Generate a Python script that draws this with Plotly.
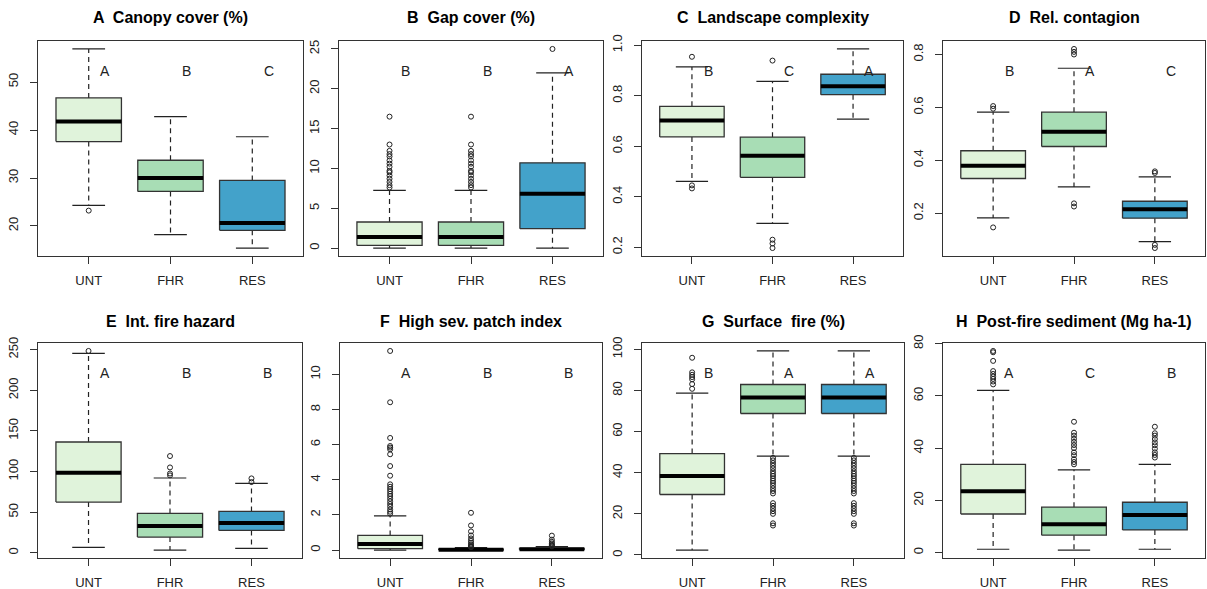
import plotly.graph_objects as go

groups = ["UNT", "FHR", "RES"]
fills = ["#E0F3DB", "#A8DDB5", "#43A2CA"]

# each stats row: [lower whisker, Q1, median, Q3, upper whisker]
canopy_stats = [[24.3, 37.6, 41.8, 46.7, 56.9], [18.2, 27.2, 30.0, 33.7, 42.8], [15.4, 19.1, 20.6, 29.5, 38.6]]
canopy_out = [[23.2], [], []]

gap_stats = [[0.0, 0.33, 1.38, 3.27, 7.24], [0.0, 0.33, 1.38, 3.27, 7.24], [0.0, 2.43, 6.83, 10.7, 22.0]]
gap_out_unt = [16.5, 13.0, 12.2, 11.8, 11.5, 11.0, 10.6, 10.2, 9.7, 9.5, 9.1, 8.7, 8.3, 7.9, 7.6]
gap_out = [gap_out_unt, list(gap_out_unt), [25.0]]

complex_stats = [[0.461, 0.637, 0.702, 0.758, 0.914], [0.295, 0.477, 0.562, 0.636, 0.857], [0.707, 0.804, 0.837, 0.885, 0.985]]
complex_out = [[0.954, 0.445, 0.433], [0.939, 0.230, 0.215, 0.197], []]

contag_stats = [[0.182, 0.331, 0.379, 0.436, 0.582], [0.299, 0.452, 0.508, 0.582, 0.748], [0.092, 0.181, 0.215, 0.245, 0.337]]
contag_out = [[0.605, 0.595, 0.146], [0.821, 0.810, 0.800, 0.237, 0.225], [0.358, 0.352, 0.080, 0.068]]

hazard_stats = [[6.6, 62.4, 98.4, 136.3, 245.5], [3.3, 19.3, 32.8, 48.4, 92.0], [5.3, 27.5, 36.5, 50.8, 85.4]]
hazard_out = [[248.4], [119.0, 105.0, 97.5, 95.2], [91.5, 87.0]]

patch_stats = [[0.0, 0.08, 0.34, 0.83, 1.94], [0.0, 0.0, 0.01, 0.05, 0.14], [0.0, 0.02, 0.05, 0.09, 0.19]]
patch_out = [
    [11.33, 8.41, 6.38, 5.92, 5.83, 5.73, 5.45, 4.78, 4.23, 3.74, 3.6, 3.47, 3.34, 3.2, 3.07, 2.92,
     2.77, 2.62, 2.47, 2.31, 2.18, 2.07],
    [2.12, 1.4, 1.06, 0.83, 0.66, 0.53, 0.42, 0.32, 0.25, 0.19, 0.16],
    [0.82, 0.59, 0.47, 0.38, 0.30, 0.25, 0.21],
]

surface_stats = [[2.4, 29.4, 38.4, 49.3, 78.7], [48.1, 68.8, 76.6, 82.9, 99.2], [48.1, 68.8, 76.6, 82.9, 99.2]]
surface_low_out = [47.2, 46.0, 44.7, 43.4, 42.1, 40.7, 39.5, 38.4, 37.2, 36.1, 35.0, 33.7, 32.4, 31.1,
                   29.9, 25.2, 23.9, 22.6, 21.3, 20.0, 15.4, 14.3]
surface_out = [[95.9, 88.8, 87.6, 86.5, 85.4, 83.1, 80.8], surface_low_out, list(surface_low_out)]

sediment_stats = [[1.3, 14.8, 23.5, 33.8, 62.1], [1.0, 6.7, 10.9, 17.4, 31.7], [1.3, 8.7, 14.4, 19.3, 33.8]]
sediment_out = [
    [77.2, 76.7, 73.4, 69.5, 68.4, 67.4, 66.5, 65.5, 64.4],
    [50.1, 45.9, 44.8, 43.6, 42.4, 41.2, 40.0, 38.4, 37.3, 35.8, 34.7, 33.8],
    [48.2, 45.7, 44.8, 43.5, 42.2, 41.1, 39.8, 38.4, 37.4, 36.4],
]

titles = ["A  Canopy cover (%)", "B  Gap cover (%)", "C  Landscape complexity", "D  Rel. contagion",
          "E  Int. fire hazard", "F  High sev. patch index", "G  Surface  fire (%)",
          "H  Post-fire sediment (Mg ha-1)"]
letters = [["A", "B", "C"], ["B", "B", "A"], ["B", "C", "A"], ["B", "A", "C"],
           ["A", "B", "B"], ["A", "B", "B"], ["B", "A", "A"], ["A", "C", "B"]]
ytick_vals = [[20, 30, 40, 50], [0, 5, 10, 15, 20, 25], [0.2, 0.4, 0.6, 0.8, 1.0], [0.2, 0.4, 0.6, 0.8],
              [0, 50, 100, 150, 200, 250], [0, 2, 4, 6, 8, 10], [0, 20, 40, 60, 80, 100], [0, 20, 40, 60, 80]]
ytick_text = [["20", "30", "40", "50"], ["0", "5", "10", "15", "20", "25"],
              ["0.2", "0.4", "0.6", "0.8", "1.0"], ["0.2", "0.4", "0.6", "0.8"],
              ["0", "50", "100", "150", "200", "250"], ["0", "2", "4", "6", "8", "10"],
              ["0", "20", "40", "60", "80", "100"], ["0", "20", "40", "60", "80"]]

all_stats = [canopy_stats, gap_stats, complex_stats, contag_stats, hazard_stats, patch_stats, surface_stats, sediment_stats]
all_out = [canopy_out, gap_out, complex_out, contag_out, hazard_out, patch_out, surface_out, sediment_out]

W, H = 1207, 589
xpix = [(38, 303), (339, 603), (642, 903), (943, 1205), (38, 302), (340, 602), (642, 904), (943, 1205)]
ypix = [(41, 256)] * 4 + [(343, 558)] * 4

FONT = "Liberation Sans, Arial, Helvetica, sans-serif"
INK = "#222222"
BW = 0.4   # half box width
CW = 0.2   # half staple width

fig = go.Figure()
layout = dict(width=W, height=H, margin=dict(l=0, r=0, t=0, b=0, autoexpand=False), paper_bgcolor="white",
              plot_bgcolor="white", showlegend=False, font=dict(family=FONT, size=13, color=INK))
annotations = []

for p in range(8):
    sfx = "" if p == 0 else str(p + 1)
    xa, ya = "x" + sfx, "y" + sfx
    stats, outs = all_stats[p], all_out[p]
    xs = [1, 2, 3]
    wx, wy = [], []
    cx, cy = [], []
    mx, my = [], []
    for i, s in enumerate(stats):
        c = xs[i]
        wx += [c, c, None, c, c, None]
        wy += [s[3], s[4], None, s[1], s[0], None]
        cx += [c - CW, c + CW, None, c - CW, c + CW, None]
        cy += [s[4], s[4], None, s[0], s[0], None]
        mx += [c - BW, c + BW, None]
        my += [s[2], s[2], None]
    fig.add_trace(go.Scatter(x=wx, y=wy, mode="lines", xaxis=xa, yaxis=ya,
                             line=dict(color=INK, width=1.2, dash="5px,4px"), hoverinfo="skip"))
    fig.add_trace(go.Scatter(x=cx, y=cy, mode="lines", xaxis=xa, yaxis=ya,
                             line=dict(color=INK, width=1.2), hoverinfo="skip"))
    for i, s in enumerate(stats):
        c = xs[i]
        fig.add_trace(go.Scatter(x=[c - BW, c + BW, c + BW, c - BW, c - BW],
                                 y=[s[1], s[1], s[3], s[3], s[1]], mode="lines", fill="toself",
                                 fillcolor=fills[i], xaxis=xa, yaxis=ya,
                                 line=dict(color="#333333", width=1.3), name=groups[i]))
    fig.add_trace(go.Scatter(x=mx, y=my, mode="lines", xaxis=xa, yaxis=ya,
                             line=dict(color="black", width=4), hoverinfo="skip"))
    ox, oy = [], []
    for i, o in enumerate(outs):
        ox += [xs[i]] * len(o)
        oy += o
    fig.add_trace(go.Scatter(x=ox, y=oy, mode="markers", xaxis=xa, yaxis=ya,
                             marker=dict(symbol="circle-open", size=5, color=INK, line=dict(width=1))))

    vals = [v for s in stats for v in s] + [v for o in outs for v in o]
    lo, hi = min(vals), max(vals)
    pad = 0.04 * (hi - lo)
    x0, x1 = xpix[p]
    y0, y1 = ypix[p]
    common = dict(showline=True, mirror=True, linecolor="#333333", linewidth=1.3, ticks="outside",
                  ticklen=7, tickwidth=1.2, tickcolor="#333333", showgrid=False, zeroline=False,
                  automargin=False, tickfont=dict(family=FONT, size=13, color=INK))
    layout["xaxis" + sfx] = dict(common, domain=[x0 / W, x1 / W], range=[0.38, 3.62], tickvals=xs,
                                 ticktext=groups, anchor=ya, ticklabelstandoff=5)
    layout["yaxis" + sfx] = dict(common, domain=[1 - y1 / H, 1 - y0 / H], range=[lo - pad, hi + pad],
                                 tickvals=ytick_vals[p], ticktext=ytick_text[p], tickangle=-90,
                                 anchor=xa, ticklabelstandoff=7)
    ty = 18 if p < 4 else 321
    annotations.append(dict(text="<b>" + titles[p] + "</b>", x=(x0 + x1) / 2 / W, y=1 - ty / H,
                            xref="paper", yref="paper", showarrow=False, xanchor="center",
                            yanchor="middle", font=dict(family=FONT, size=16, color="black")))
    for i, L in enumerate(letters[p]):
        annotations.append(dict(text=L, x=xs[i] + 0.2, y=0.862, xref=xa, yref=ya + " domain",
                                showarrow=False, xanchor="center", yanchor="middle",
                                font=dict(family=FONT, size=14, color=INK)))

layout["annotations"] = annotations
fig.update_layout(**layout)
fig.write_html("out.html", config={"displayModeBar": False},
               post_script="document.body.style.margin='0';document.body.style.overflow='hidden';")
